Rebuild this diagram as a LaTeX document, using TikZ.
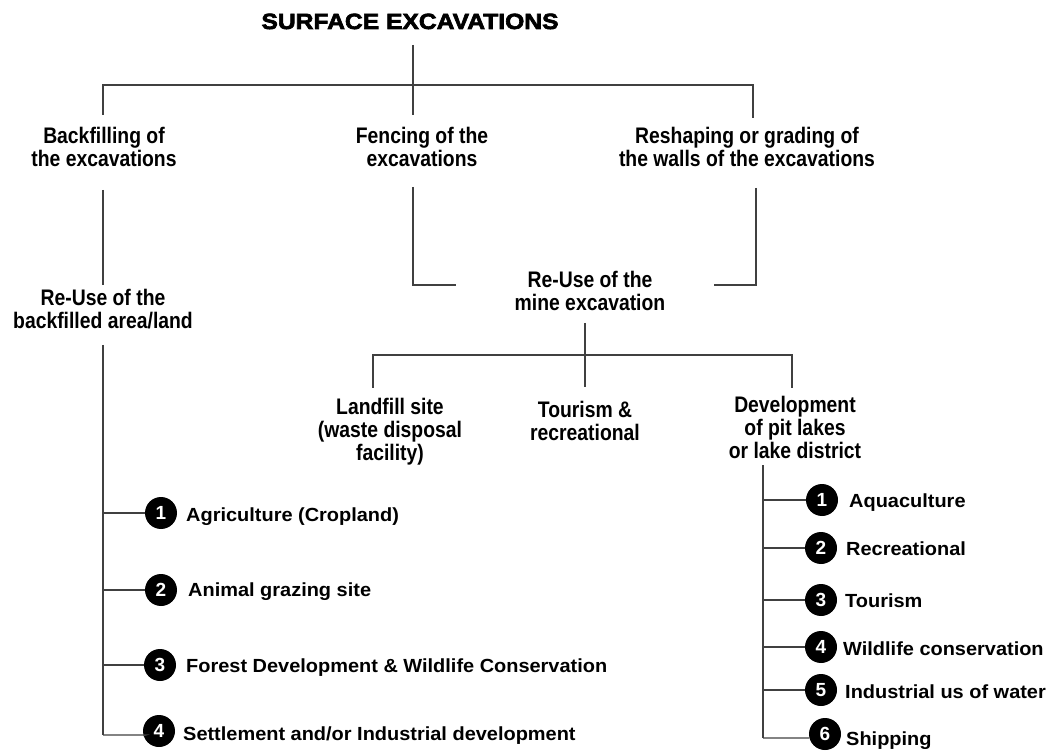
\documentclass[tikz,border=0pt]{standalone}
\usepackage{fontspec}
\setmainfont{Liberation Sans}
\newfontfamily\narrowf{Liberation Sans}[FakeStretch=0.86]
\newfontfamily\widef{Liberation Sans}[FakeStretch=1.05]
\newfontfamily\titlef{Liberation Sans}[FakeStretch=1.12,FakeBold=3]
\begin{document}
\begin{tikzpicture}[x=1pt,y=-1pt,
  conn/.style={line width=1.1pt,draw=black!75},
  upper/.style={align=center,inner sep=0pt,font=\narrowf\fontsize{22.5}{23}\selectfont\bfseries},
  item/.style={anchor=base west,inner sep=0pt,font=\widef\fontsize{19}{22}\selectfont\bfseries},
  num/.style={circle,fill=black,minimum size=32pt,inner sep=0pt,text=white,font=\fontsize{19}{19}\selectfont\bfseries}]
\useasboundingbox (0,0) rectangle (1050,751);
% title
\node[inner sep=0pt,anchor=base,font=\titlef\fontsize{22}{24}\selectfont\bfseries] (title) at (410,29) {SURFACE EXCAVATIONS};
\coordinate (t0) at (413,45);
\coordinate (tj) at (413,85);
\coordinate (t1) at (413,115);
\coordinate (lj) at (103,85);
\coordinate (l1) at (103,115);
\coordinate (rj) at (753,85);
\coordinate (r1) at (753,118);
\draw[conn] (t0) -- (t1);
\draw[conn] (l1) -- (lj) -- (rj) -- (r1);
% level 1
\node[upper] (back) at (104,146.5) {Backfilling of\\the excavations};
\node[upper] (fence) at (422,146.5) {Fencing of the\\excavations};
\node[upper] (resh) at (747,146.5) {Reshaping or grading of\\the walls of the excavations};
% level 2
\node[upper] (reuseL) at (103,309) {Re-Use of the\\backfilled area/land};
\node[upper] (reuseM) at (590,291) {Re-Use of the\\mine excavation};
\coordinate (b0) at (103,190);
\coordinate (b1) at (103,285);
\draw[conn] (b0) -- (b1);
\coordinate (f0) at (413,187);
\coordinate (f1) at (413,285);
\coordinate (f2) at (456,285);
\draw[conn] (f0) -- (f1) -- (f2);
\coordinate (g0) at (756,188);
\coordinate (g1) at (756,285);
\coordinate (g2) at (714,285);
\draw[conn] (g0) -- (g1) -- (g2);
% level 3
\node[upper] (land) at (390,432) {Landfill site\\(waste disposal\\facility)};
\node[upper] (tour) at (585,421) {Tourism \&\\recreational};
\node[upper] (dev) at (795,427.5) {Development\\of pit lakes\\or lake district};
\coordinate (m0) at (585,323);
\coordinate (m1) at (585,387);
\coordinate (mj) at (585,355);
\coordinate (ma) at (373,355);
\coordinate (ma1) at (373,388);
\coordinate (mc) at (792,355);
\coordinate (mc1) at (792,388);
\draw[conn] (m0) -- (m1);
\draw[conn] (ma1) -- (ma) -- (mc) -- (mc1);
% left list
\coordinate (L0) at (103,345);
\coordinate (L4) at (103,735);
\draw[conn] (L0) -- (L4);
\node[num] (n1) at (161,513) {1};
\node[num] (n2) at (161,590) {2};
\node[num] (n3) at (160,665) {3};
\node[num] (n4) at (159,731) {4};
\node[item] (i1) at (186,521) {Agriculture (Cropland)};
\node[item] (i2) at (188,596) {Animal grazing site};
\node[item] (i3) at (186,672) {Forest Development \& Wildlife Conservation};
\node[item] (i4) at (183,740) {Settlement and/or Industrial development};
\coordinate (c1) at (103,513);
\coordinate (c2) at (103,590);
\coordinate (c3) at (103,665);
\coordinate (c4) at (103,735);
\draw[conn] (c1) -- (n1);
\draw[conn] (c2) -- (n2);
\draw[conn] (c3) -- (n3);
\draw[conn] (c4) -- ++(43,0) -- (n4);
% right list
\coordinate (R0) at (763,465);
\coordinate (R6) at (763,738);
\draw[conn] (R0) -- (R6);
\node[num] (p1) at (822,500) {1};
\node[num] (p2) at (821,548) {2};
\node[num] (p3) at (821,600) {3};
\node[num] (p4) at (821,647) {4};
\node[num] (p5) at (821,690) {5};
\node[num] (p6) at (825,734) {6};
\node[item] (j1) at (849,507) {Aquaculture};
\node[item] (j2) at (846,555) {Recreational};
\node[item] (j3) at (845,607) {Tourism};
\node[item] (j4) at (843,655) {Wildlife conservation};
\node[item] (j5) at (845,698) {Industrial us of water};
\node[item] (j6) at (846,745) {Shipping};
\coordinate (d1) at (763,500);
\coordinate (d2) at (763,548);
\coordinate (d3) at (763,600);
\coordinate (d4) at (763,647);
\coordinate (d5) at (763,690);
\coordinate (d6) at (763,738);
\draw[conn] (d1) -- (p1);
\draw[conn] (d2) -- (p2);
\draw[conn] (d3) -- (p3);
\draw[conn] (d4) -- (p4);
\draw[conn] (d5) -- (p5);
\draw[conn] (d6) -- ++(46,0) -- (p6);
\end{tikzpicture}
\end{document}
